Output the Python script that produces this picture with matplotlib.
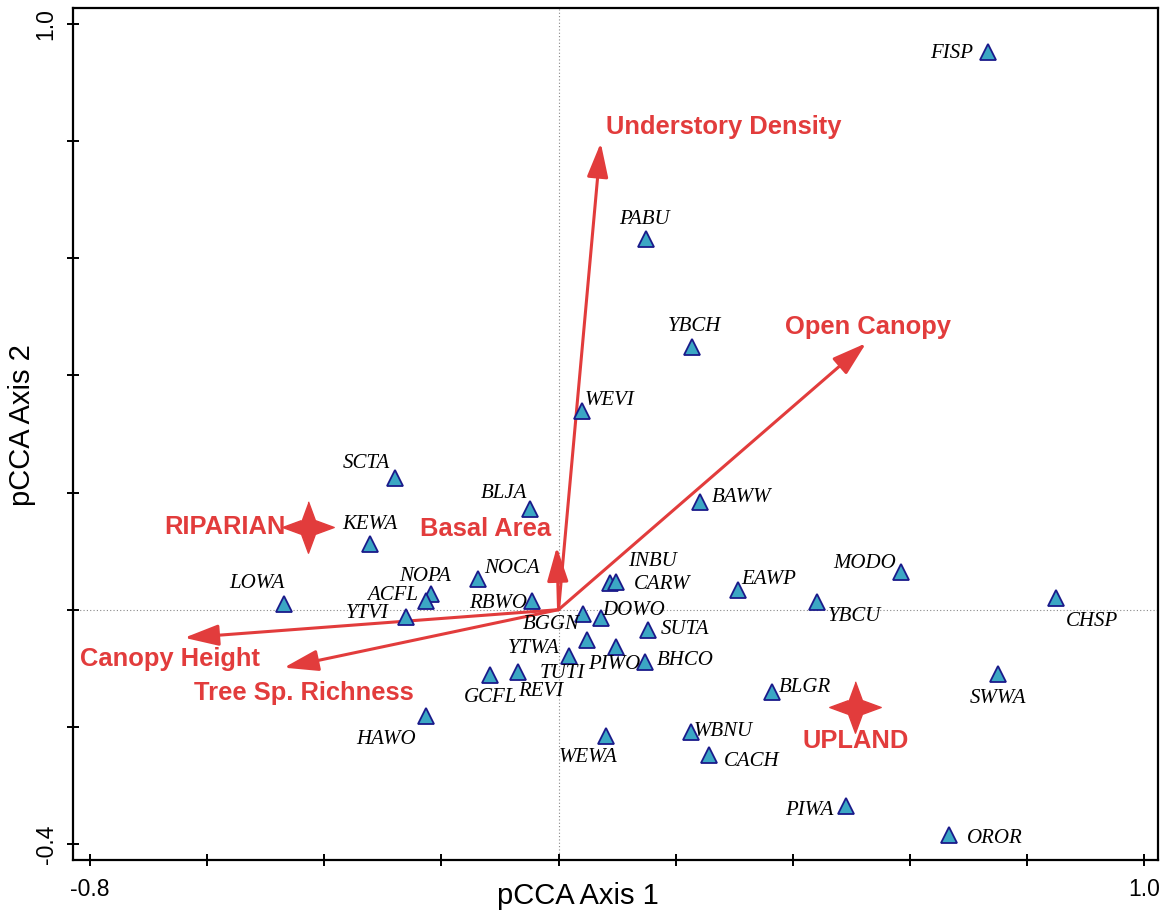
import numpy as np
import matplotlib
matplotlib.use("Agg")
import matplotlib.pyplot as plt

## Species scores (pCCA axis 1, axis 2)
species = ["FISP", "PABU", "YBCH", "WEVI", "SCTA", "BLJA", "BAWW", "KEWA",
           "INBU", "CARW", "MODO", "EAWP", "LOWA", "NOPA", "ACFL", "NOCA",
           "RBWO", "YTVI", "CHSP", "YBCU", "BGGN", "DOWO", "YTWA", "TUTI",
           "SUTA", "PIWO", "BHCO", "GCFL", "REVI", "HAWO", "WEWA", "WBNU",
           "CACH", "BLGR", "SWWA", "PIWA", "OROR"]
axis1 = [0.733, 0.149, 0.228, 0.040, -0.279, -0.049, 0.241, -0.322,
         0.088, 0.098, 0.585, 0.306, -0.469, -0.218, -0.227, -0.137,
         -0.045, -0.261, 0.849, 0.441, 0.042, 0.072, 0.048, 0.017,
         0.153, 0.098, 0.148, -0.117, -0.069, -0.226, 0.081, 0.226,
         0.257, 0.364, 0.750, 0.491, 0.667]
axis2 = [0.952, 0.633, 0.449, 0.339, 0.225, 0.172, 0.184, 0.112,
         0.046, 0.047, 0.064, 0.034, 0.010, 0.027, 0.014, 0.052,
         0.014, -0.012, 0.020, 0.013, -0.007, -0.015, -0.051, -0.079,
         -0.035, -0.063, -0.089, -0.111, -0.106, -0.181, -0.216, -0.209,
         -0.248, -0.140, -0.110, -0.335, -0.385]

## Environmental vectors
env_names = ["Understory Density", "Open Canopy", "Basal Area",
             "Canopy Height", "Tree Sp. Richness"]
env_x = [0.072, 0.525, -0.003, -0.639, -0.469]
env_y = [0.797, 0.455, 0.107, -0.048, -0.099]

## Habitat centroids
hab_names = ["RIPARIAN", "UPLAND"]
hab_x = [-0.428, 0.506]
hab_y = [0.141, -0.166]

## label offsets in pixels (right, down)
sp_off = {"FISP": (-36, 1), "PABU": (-1, -19), "YBCH": (2, -20), "WEVI": (28, -11),
          "SCTA": (-29, -14), "BLJA": (-26, -15), "BAWW": (42, -4), "KEWA": (0, -20),
          "INBU": (42, -21), "CARW": (46, 2), "MODO": (-37, -9), "EAWP": (31, -10),
          "LOWA": (-27, -20), "NOPA": (-6, -17), "ACFL": (-33, -6), "NOCA": (34, -11),
          "RBWO": (-34, 2), "YTVI": (-38, -3), "CHSP": (36, 24), "YBCU": (38, 14),
          "BGGN": (-32, 11), "DOWO": (33, -8), "YTWA": (-53, 9), "TUTI": (-6, 18),
          "SUTA": (37, -1), "PIWO": (-2, 18), "BHCO": (40, -1), "GCFL": (0, 23),
          "REVI": (23, 20), "HAWO": (-40, 24), "WEWA": (-18, 21), "WBNU": (32, -1),
          "CACH": (43, 7), "BLGR": (33, -4), "SWWA": (0, 24), "PIWA": (-37, 5),
          "OROR": (46, 3)}
env_off = [(123, -16), (2, -16), (-71, -18), (-14, 21), (20, 25)]
hab_off = [(-83, 0), (1, 34)]

red = "#e23c3c"

fig = plt.figure(figsize=(11.65, 9.17), dpi=100)
ax = fig.add_axes([0.0629, 0.0622, 0.9315, 0.9288])

ax.axhline(0, color="#888888", lw=0.8, ls=(0, (1, 2)), zorder=1)
ax.axvline(0, color="#888888", lw=0.8, ls=(0, (1, 2)), zorder=1)

## Vectors
for name, ex, ey, off in zip(env_names, env_x, env_y, env_off):
    ax.annotate("", xy=(ex, ey), xytext=(0, 0),
                arrowprops=dict(arrowstyle="-|>,head_length=2.1,head_width=0.65",
                                mutation_scale=10, color=red, lw=2.2,
                                shrinkA=0, shrinkB=0), zorder=2)
    ax.annotate(name, xy=(ex, ey), xytext=(off[0], -off[1]),
                textcoords="offset pixels", ha="center", va="center",
                color=red, fontsize=18.4, fontweight="bold",
                family="Liberation Sans", zorder=4)

## Species triangles
ax.plot(axis1, axis2, ls="none", marker="^", ms=12, mfc="#3ba7c4",
        mec="#1a1a8a", mew=1.3, zorder=3)
for name, sx, sy in zip(species, axis1, axis2):
    dx, dy = sp_off[name]
    ax.annotate(name, xy=(sx, sy), xytext=(dx, -dy), textcoords="offset pixels",
                ha="center", va="center", fontsize=15, style="italic",
                family="Liberation Serif", zorder=4)

## Habitat stars
t = np.linspace(0, 2 * np.pi, 9)[:-1]
r = np.where(np.arange(8) % 2 == 0, 1.0, 0.38)
star = list(zip(r * np.sin(t), r * np.cos(t)))
ax.plot(hab_x, hab_y, ls="none", marker=star, ms=37, mfc=red, mec=red, zorder=3)
for name, hx, hy, off in zip(hab_names, hab_x, hab_y, hab_off):
    ax.annotate(name, xy=(hx, hy), xytext=(off[0], -off[1]),
                textcoords="offset pixels", ha="center", va="center",
                color=red, fontsize=18.4, fontweight="bold",
                family="Liberation Sans", zorder=4)

ax.set_xlim(-0.8285, 1.0242)
ax.set_ylim(-0.4273, 1.0268)
xt = np.arange(-0.8, 1.01, 0.2)
yt = np.arange(-0.4, 1.01, 0.2)
ax.set_xticks(xt)
ax.set_yticks(yt)
ax.set_xticklabels(["-0.8"] + [""] * (len(xt) - 2) + ["1.0"])
ax.set_yticklabels(["-0.4"] + [""] * (len(yt) - 2) + ["1.0"], rotation=90, va="center")
ax.tick_params(direction="inout", length=8.6, width=1.4, labelsize=16.5, pad=7)
ax.tick_params(axis="x", pad=9)
for lab in ax.get_xticklabels() + ax.get_yticklabels():
    lab.set_family("Liberation Sans")
for s in ax.spines.values():
    s.set_linewidth(1.6)

ax.set_xlabel("pCCA Axis 1", fontsize=21, family="Liberation Sans")
ax.set_ylabel("pCCA Axis 2", fontsize=21, family="Liberation Sans")
ax.xaxis.set_label_coords(0.465, -0.026)
ax.yaxis.set_label_coords(-0.034, 0.511)

fig.savefig("out.png", dpi=100)
